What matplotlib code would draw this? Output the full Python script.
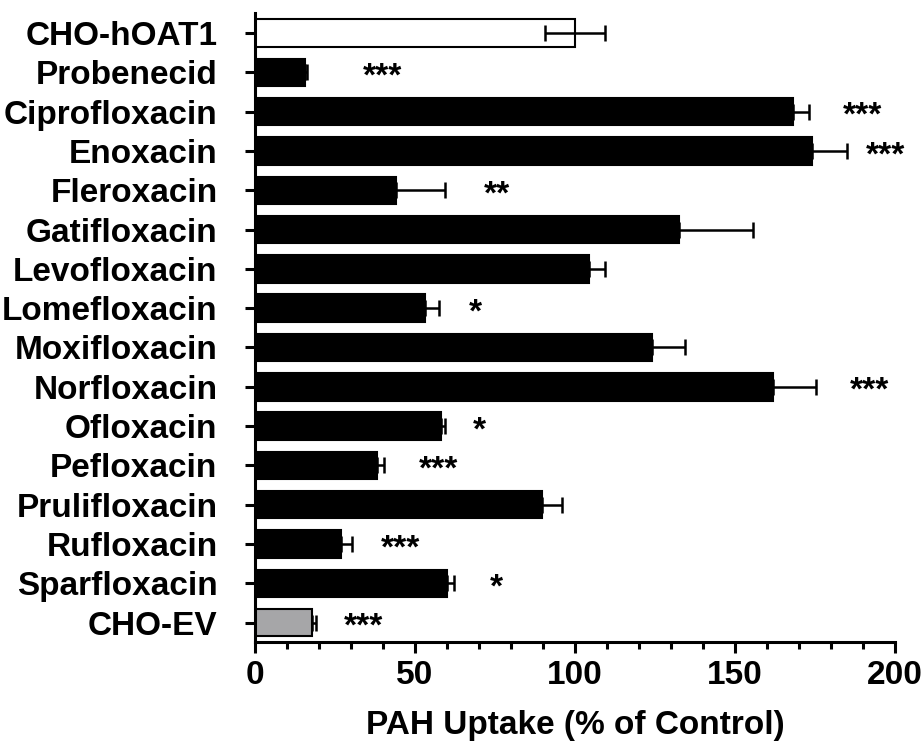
import matplotlib
matplotlib.use("Agg")
import matplotlib.pyplot as plt
from matplotlib.ticker import MultipleLocator

categories = ["CHO-hOAT1", "Probenecid", "Ciprofloxacin", "Enoxacin", "Fleroxacin",
              "Gatifloxacin", "Levofloxacin", "Lomefloxacin", "Moxifloxacin",
              "Norfloxacin", "Ofloxacin", "Pefloxacin", "Prulifloxacin",
              "Rufloxacin", "Sparfloxacin", "CHO-EV"]
values = [100, 15.7, 168, 174, 44, 132.5, 104.3, 53.2, 124, 161.8, 58, 38.2, 89.7, 27, 60, 17.8]
errors = [9.3, 0.6, 5, 11, 15.5, 23, 5, 4.2, 10.5, 13.6, 1.4, 2.2, 6.3, 3.3, 2.1, 1.2]
lower_shown = [True] + [False] * 15
sig_labels = ["", "***", "***", "***", "**", "", "", "*", "", "***", "*", "***", "", "***", "*", "***"]
sig_x = [0, 40, 190, 197, 75.5, 0, 0, 69, 0, 192, 70, 57.5, 0, 45.5, 75.5, 34]

colors = ["white"] + ["black"] * 14 + ["#a6a6a8"]

plt.rcParams['font.family'] = ['Liberation Sans', 'DejaVu Sans']
plt.rcParams['font.weight'] = 'bold'

fig = plt.figure(figsize=(9.22, 7.52), dpi=100)
ax = fig.add_axes([255 / 922, 1 - 641.5 / 752, 640 / 922, (641.5 - 13) / 752])

y = list(range(len(categories)))
ax.barh(y, values, height=0.7, color=colors, edgecolor="black", linewidth=1.5, zorder=2)
lower = [e if s else 0 for e, s in zip(errors, lower_shown)]
ax.errorbar(values, y, xerr=[lower, errors], fmt="none", ecolor="black", elinewidth=1.8,
            capsize=5.5, capthick=1.8, zorder=3)

for yi, lab, sx in zip(y, sig_labels, sig_x):
    if lab:
        ax.text(sx, yi + 0.12, lab, ha="center", va="center", fontsize=24, fontweight="bold")

ax.set_xlim(0, 200)
ax.set_ylim(len(categories) - 0.52, -0.51)
ax.set_yticks(y)
ax.set_yticklabels(categories, fontsize=24, fontweight="bold")
ax.xaxis.set_major_locator(MultipleLocator(50))
ax.xaxis.set_minor_locator(MultipleLocator(10))
ax.tick_params(axis="x", which="major", labelsize=24, width=2.2, length=8, pad=5)
ax.tick_params(axis="x", which="minor", width=2.2, length=5)
ax.tick_params(axis="y", width=2.2, length=7, pad=20)
for t in ax.get_xticklabels():
    t.set_fontweight("bold")

ax.spines["top"].set_visible(False)
ax.spines["right"].set_visible(False)
ax.spines["left"].set_linewidth(2.2)
ax.spines["bottom"].set_linewidth(2.2)

ax.set_xlabel("PAH Uptake (% of Control)", fontsize=24, fontweight="bold", labelpad=14)

fig.savefig("out.png", dpi=100)
